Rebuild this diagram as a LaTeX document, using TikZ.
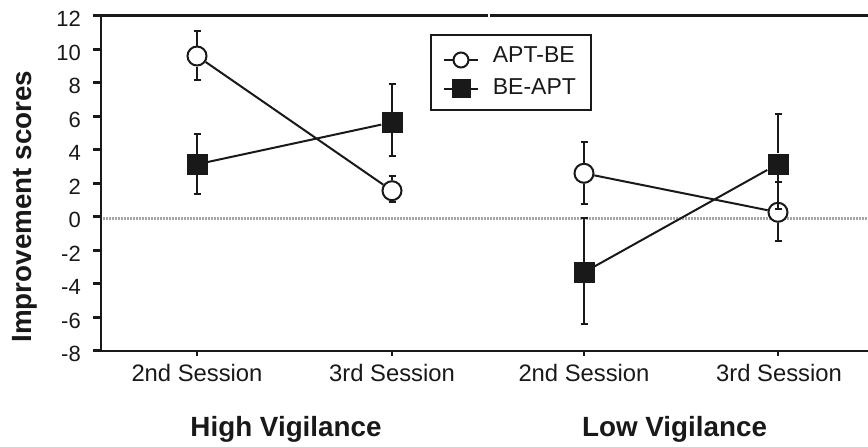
\documentclass[tikz,border=0pt]{standalone}
\usepackage{fontspec}
\setmainfont{Liberation Sans}
\begin{document}
\begin{tikzpicture}[x=1pt,y=-1pt,
  axis/.style={line width=2.6pt, color=black!90},
  dataline/.style={line width=2pt, color=black!90},
  circ/.style={circle, draw=black!90, line width=2pt, fill=white, minimum size=19pt, inner sep=0pt},
  sq/.style={rectangle, fill=black!90, minimum size=21pt, inner sep=0pt},
  ticklab/.style={anchor=base east, inner sep=0pt, text=black!90, font=\fontsize{22}{26}\selectfont},
  sess/.style={anchor=base, inner sep=0pt, text=black!90, font=\fontsize{23.8}{28}\selectfont},
  grp/.style={anchor=base, inner sep=0pt, text=black!90, font=\fontsize{27.8}{32}\selectfont\bfseries},
  legtext/.style={anchor=base west, inner sep=0pt, text=black!90, font=\fontsize{23}{27}\selectfont},
  zeroline/.style={gray!70, line width=2.2pt, dash pattern=on 0.9pt off 0.6pt}
]
\useasboundingbox (0,0) rectangle (868,447);

% zero reference line
\coordinate (z0) at (101,218.5);
\coordinate (z1) at (868,218.5);
\draw[zeroline] (z0) -- (z1);

% axes
\coordinate (ytop) at (101,15.7);
\coordinate (orig) at (101,351);
\coordinate (tl) at (93,15.7);
\coordinate (tgap1) at (488,15.7);
\coordinate (tgap2) at (490,15.7);
\coordinate (tr) at (868,15.7);
\coordinate (bl) at (93,351);
\coordinate (br) at (868,351);
\draw[axis] (ytop) -- (orig);
\draw[axis] (bl) -- (br);
\draw[axis] (tl) -- (tgap1);
\draw[axis] (tgap2) -- (tr);

% y ticks and labels
\foreach \v in {12,10,8,6,4,2,0,-2,-4,-6,-8}{
  \pgfmathsetmacro{\yy}{216.7-16.75*\v}
  \coordinate (ta\v) at (93,\yy);
  \coordinate (tb\v) at (101,\yy);
  \draw[axis] (ta\v) -- (tb\v);
  \node[ticklab] (tl\v) at (81,\yy+11.1) {\v};
}

% x ticks
\foreach \xx [count=\i] in {197,392,584,778}{
  \coordinate (xa\i) at (\xx,351);
  \coordinate (xb\i) at (\xx,356);
  \draw[axis] (xa\i) -- (xb\i);
}

% session labels
\node[sess] (s1lab) at (197,381) {2nd Session};
\node[sess] (s2lab) at (392,381) {3rd Session};
\node[sess] (s3lab) at (584,381) {2nd Session};
\node[sess] (s4lab) at (779,381) {3rd Session};
\node[grp] (hv) at (286,436) {High Vigilance};
\node[grp] (lv) at (674.5,436) {Low Vigilance};

% y label
\node[rotate=90, anchor=base, inner sep=0pt, text=black!90, font=\fontsize{27.8}{32}\selectfont\bfseries] (ylab) at (31.7,206.5) {Improvement scores};

% APT-BE series (circles)
\foreach \xx/\yy/\tp/\bt [count=\i] in {197/56/30.7/80, 392/190.7/175.7/201.7, 584/173.3/142.3/204, 778/212.3/181.7/240.7}{
  \node[circ] (c\i) at (\xx,\yy) {};
  \coordinate (ct\i) at (\xx,\tp);
  \coordinate (cb\i) at (\xx,\bt);
  \draw[dataline] (c\i.north) -- (ct\i);
  \draw[dataline] (c\i.south) -- (cb\i);
  \draw[dataline] ([xshift=-3.5pt]ct\i) -- ([xshift=3.5pt]ct\i);
  \draw[dataline] ([xshift=-3.5pt]cb\i) -- ([xshift=3.5pt]cb\i);
}
\draw[dataline] (c1) -- (c2);
\draw[dataline] (c3) -- (c4);

% BE-APT series (squares)
\foreach \xx/\yy/\tp/\bt [count=\i] in {197/164.3/134.3/194, 392/122.3/84/156, 584/272.3/218.3/324.3, 778/164/114/209.3}{
  \node[sq] (q\i) at (\xx,\yy) {};
  \coordinate (qt\i) at (\xx,\tp);
  \coordinate (qb\i) at (\xx,\bt);
  \draw[dataline] (q\i.north) -- (qt\i);
  \draw[dataline] (q\i.south) -- (qb\i);
  \draw[dataline] ([xshift=-3.5pt]qt\i) -- ([xshift=3.5pt]qt\i);
  \draw[dataline] ([xshift=-3.5pt]qb\i) -- ([xshift=3.5pt]qb\i);
}
\draw[dataline] (q1) -- (q2);
\draw[dataline] (q3) -- (q4);

% legend
\node[draw=black!90, line width=2pt, minimum width=160pt, minimum height=75pt, inner sep=0pt, anchor=north west] (legend) at (430,34) {};
\coordinate (la1) at (444,60);
\coordinate (lb1) at (478,60);
\coordinate (la2) at (444,88.5);
\coordinate (lb2) at (478,88.5);
\draw[dataline] (la1) -- (lb1);
\node[circ, minimum size=15pt] (lc) at (461,60) {};
\draw[dataline] (la2) -- (lb2);
\node[sq, minimum size=19pt] (lq) at (461,88.5) {};
\node[legtext] (l1) at (492.7,62.7) {APT-BE};
\node[legtext] (l2) at (492.7,94.5) {BE-APT};
\end{tikzpicture}
\end{document}
